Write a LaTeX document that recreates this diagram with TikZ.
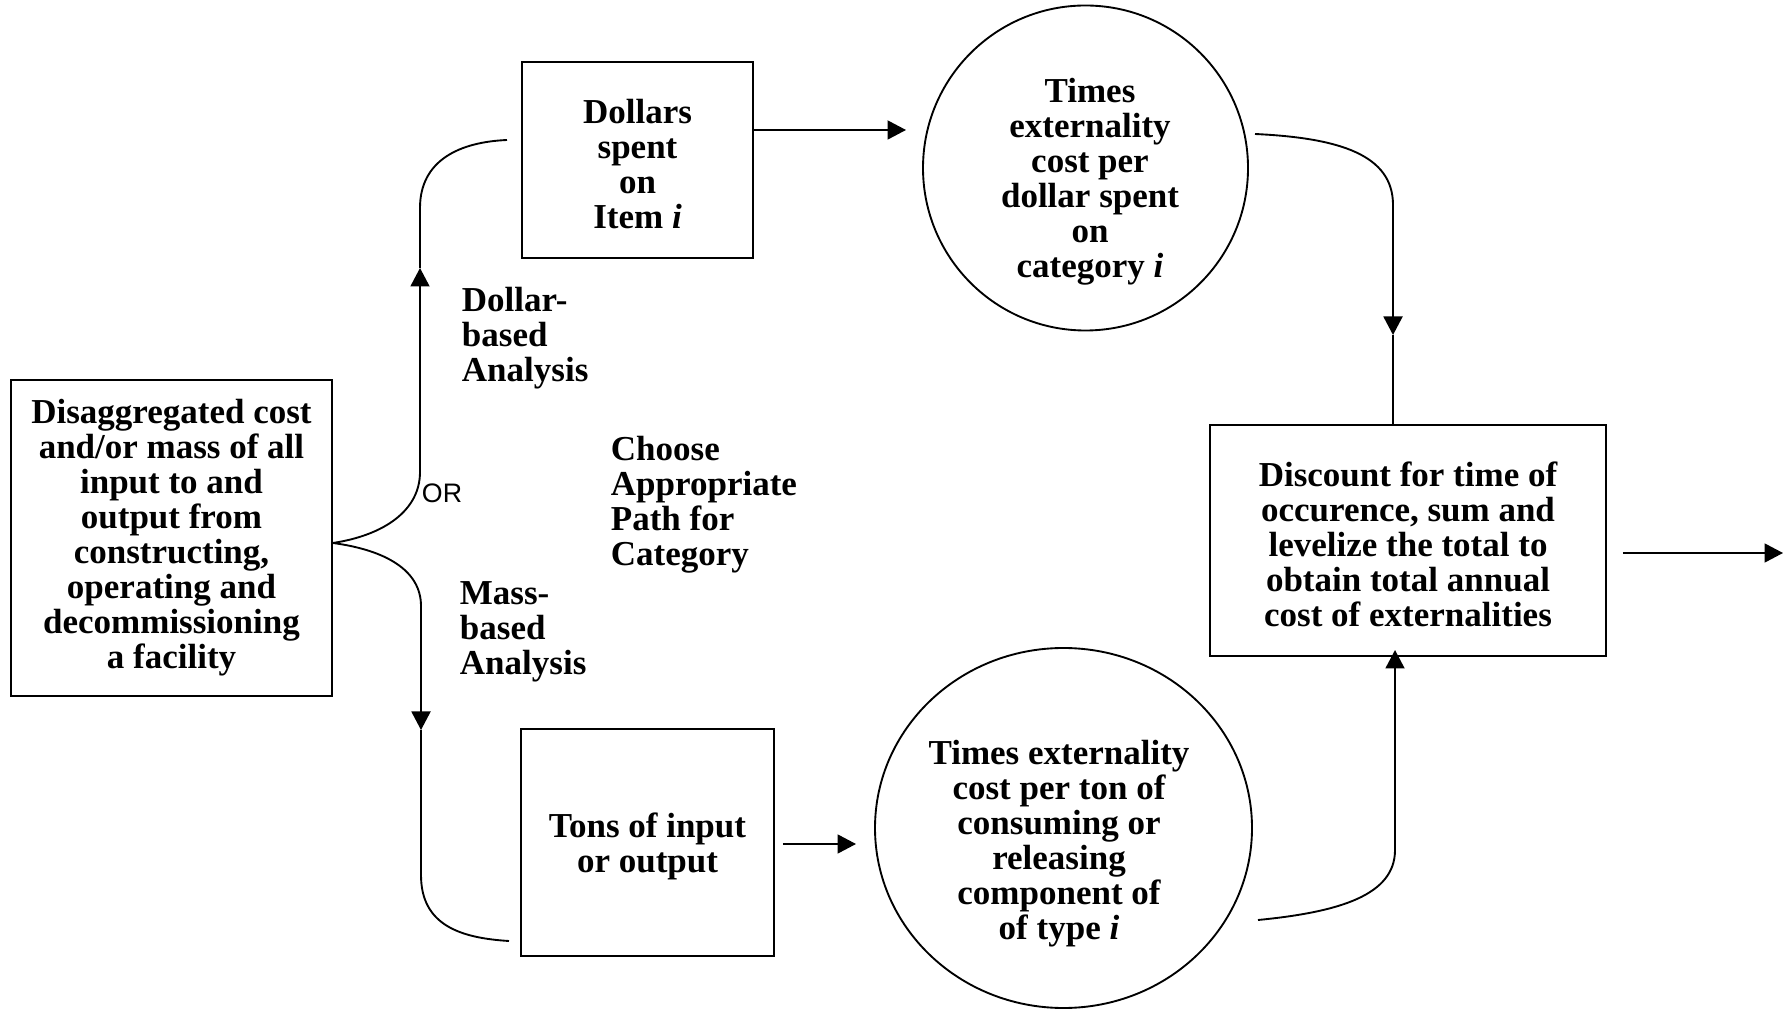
\documentclass[tikz,border=0pt]{standalone}
\usepackage{fontspec}
\setmainfont{Liberation Serif}
\newfontfamily\orfont{Liberation Sans}
\usetikzlibrary{arrows.meta,shapes.geometric,calc}
% a taller first line sets a box's text a little lower
\newcommand\lowstrut{\rule{0pt}{12.7pt}}
\begin{document}
\begin{tikzpicture}[x=0.4pt,y=-0.4pt,
  line width=0.75pt,
  txt/.style={font=\bfseries\fontsize{14}{14}\selectfont, align=center, inner sep=0pt},
  lbl/.style={font=\bfseries\fontsize{14}{14}\selectfont, align=left, inner sep=0pt, anchor=west},
  boxnode/.style={draw, rectangle, txt},
  tip/.style={-{Triangle[length=7.4pt,width=7.6pt]}},
]
\useasboundingbox (0,0) rectangle (1791,1010);

% process boxes and cost circles
\node[boxnode, minimum width=128.4pt, minimum height=126.4pt] (src) at (171.5,538)
  {Disaggregated cost\\and/or mass of all\\input to and\\output from\\constructing,\\operating and\\decommissioning\\a facility};
\node[boxnode, minimum width=92.4pt, minimum height=78.4pt] (dol) at (637.5,160)
  {\lowstrut Dollars\\spent\\on\\Item \textit{i}};
\node[circle, draw, minimum size=130pt, inner sep=0pt] (c1) at (1085.5,168) {};
\node[txt] (c1txt) at (1090,182)
  {Times\\externality\\cost per\\dollar spent\\on\\category \textit{i}};
\node[boxnode, minimum width=158.4pt, minimum height=92.4pt] (disc) at (1408,540.5)
  {\lowstrut Discount for time of\\occurence, sum and\\levelize the total to\\obtain total annual\\cost of externalities};
\node[boxnode, minimum width=101.2pt, minimum height=90.8pt] (tons) at (647.5,842.5)
  {\lowstrut Tons of input\\or output};
\node[ellipse, draw, minimum width=150.8pt, minimum height=144pt, inner sep=0pt] (c2) at (1063.5,828) {};
\node[txt] (c2txt) at (1059,843.5)
  {Times externality\\cost per ton of\\consuming or\\releasing\\component of\\of type \textit{i}};

% path labels
\node[lbl] (dlab) at (461,338.5) {Dollar-\\based\\Analysis};
\node[lbl] (mlab) at (459,631.5) {Mass-\\based\\Analysis};
\node[lbl] (choose) at (610,504.5) {Choose\\Appropriate\\Path for\\Category};
\node[font=\orfont\fontsize{10.7}{12}\selectfont, inner sep=0pt, anchor=west] (orlab) at (421,493) {OR};

% free ends of the connectors
\coordinate (fork) at ($(src.east)+(0,5)$);
\coordinate (upTip) at (420,268);
\coordinate (dolIn) at (507,140);
\coordinate (dnTip) at (421,730);
\coordinate (tonsIn) at (509,941);
\coordinate (c1In) at (906,130);
\coordinate (c2In) at (856,844);
\coordinate (c1Out) at (1255,134);
\coordinate (discTopTip) at (1393,335);
\coordinate (c2Out) at (1258,920);
\coordinate (discBotTip) at (1395,650);
\coordinate (outTip) at (1783,553);

% dollar-based branch
\draw[tip] (fork) .. controls (385,535) and (420,510) .. (420,472) -- (upTip);
\draw (upTip) -- (420,208) .. controls (420,160) and (460,142) .. (dolIn);
% mass-based branch
\draw[tip] (fork) .. controls (385,550) and (421,570) .. (421,606) -- (dnTip);
\draw (dnTip) -- (421,875) .. controls (421,925) and (460,938) .. (tonsIn);

% into the cost circles
\draw[tip] (dol.east |- c1In) -- (c1In);
\draw[tip] ($(tons.east |- c2In)+(8,0)$) -- (c2In);

% into the discounting box
\draw[tip] (c1Out) .. controls (1340,138) and (1393,155) .. (1393,205) -- (discTopTip);
\draw (discTopTip) -- (discTopTip |- disc.north);
\draw[tip] (c2Out) .. controls (1340,912) and (1395,895) .. (1395,850) -- (discBotTip);

% result
\draw[tip] ($(disc.east |- outTip)+(16,0)$) -- (outTip);
\end{tikzpicture}
\end{document}
